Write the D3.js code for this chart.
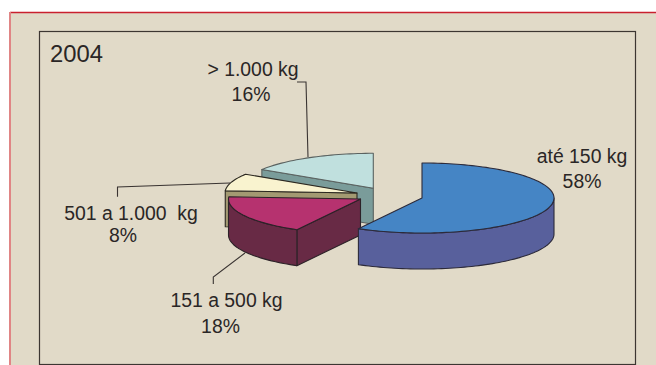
<!DOCTYPE html>
<html><head><meta charset="utf-8">
<script src="https://cdn.jsdelivr.net/npm/d3@7"></script>
<style>html,body{margin:0;padding:0;background:#fff}svg{display:block}text{font-family:"Liberation Sans",Arial,sans-serif;fill:#2a2626;white-space:pre}</style>
</head><body><svg id="c" width="656" height="365"></svg>
<script>
const categories = ["até 150 kg","151 a 500 kg","501 a 1.000  kg","> 1.000 kg"];
const shares = [58,18,8,16];
const shareLabels = ["58%","18%","8%","16%"];
const title = "2004";
const topColors = ["#4585c5","#b6326f","#f9f3cf","#c0e0de"];
const sideColors = ["#58609c","#682a45","#a39a72","#7a9c9a"];
const strokeColors = ["#2c2a3a","#2c2228","#2c2820","#5a6260"];
const centers = [[422,198],[360.5,199],[357,193],[373.3,188.3]];
const drawOrder = [3,2,1,0];
const labelPos = [[582,162.7,582,188],[226.5,307,220.5,333],[131,219.5,123,242],[253,76,251,101]];
const leaders = [null,[[213.3,284],[213.3,277],[245,253]],[[117.5,196.7],[117.5,187],[230,183]],[[297,82],[306,82],[308,157]]];

const W=656,H=365,RX=132,RY=35,DEPTH=36;
const svg=d3.select("#c");
svg.append("rect").attr("x",10).attr("y",12).attr("width",W-10).attr("height",H-12).attr("fill","#e1dac8");
svg.append("line").attr("x1",10).attr("x2",W).attr("y1",12.5).attr("y2",12.5).attr("stroke","#c9202f").attr("stroke-width",1.5);
svg.append("line").attr("x1",10).attr("x2",10).attr("y1",12).attr("y2",H).attr("stroke","#e08585").attr("stroke-width",2);
svg.append("rect").attr("x",39.5).attr("y",31.5).attr("width",596).attr("height",333).attr("fill","none").attr("stroke","#3c3632").attr("stroke-width",1.2);

const pie=d3.pie().sort(null).value(d=>d);
const arcs=pie(shares);
const sx=d3.scaleLinear().domain([-1,1]).range([-RX,RX]);
const sy=d3.scaleLinear().domain([-1,1]).range([-RY,RY]);
const line=d3.line().curve(d3.curveLinear);
const at=(i,a,dz=0)=>[centers[i][0]+sx(Math.sin(a)),centers[i][1]+sy(-Math.cos(a))+dz];
const rim=(i,a0,a1,dz=0)=>{const n=Math.max(2,Math.ceil((a1-a0)/0.03));return d3.range(n+1).map(k=>at(i,a0+(a1-a0)*k/n,dz));};

const g=svg.append("g");
drawOrder.forEach(i=>{
  const a=arcs[i], c=centers[i], base=[c[0],c[1]+DEPTH];
  const wall=(ang)=>[c,at(i,ang),at(i,ang,DEPTH),base];
  const sty=s=>s.attr("fill",sideColors[i]).attr("stroke",strokeColors[i]).attr("stroke-width",1.1).attr("stroke-linejoin","round");
  if(Math.sin(a.startAngle)<-1e-6) sty(g.append("path").attr("d",line(wall(a.startAngle))+"Z"));
  if(Math.sin(a.endAngle)>1e-6) sty(g.append("path").attr("d",line(wall(a.endAngle))+"Z"));
  const lo=Math.max(a.startAngle,Math.PI/2), hi=Math.min(a.endAngle,Math.PI*1.5);
  if(hi>lo){
    sty(g.append("path").attr("d",line(rim(i,lo,hi).concat(rim(i,lo,hi,DEPTH).reverse()))+"Z"));
  }
  g.append("path").attr("d",line([c].concat(rim(i,a.startAngle,a.endAngle)))+"Z")
    .attr("fill",topColors[i]).attr("stroke",strokeColors[i]).attr("stroke-width",1.1).attr("stroke-linejoin","round");
});

leaders.forEach(p=>{ if(p) svg.append("path").attr("d",line(p)).attr("fill","none").attr("stroke","#3a3432").attr("stroke-width",1.1); });

categories.forEach((t,i)=>{
  const p=labelPos[i];
  svg.append("text").attr("x",p[0]).attr("y",p[1]).attr("text-anchor","middle").attr("font-size",19.4).text(t);
  svg.append("text").attr("x",p[2]).attr("y",p[3]).attr("text-anchor","middle").attr("font-size",19.4).text(shareLabels[i]);
});
svg.append("text").attr("x",50).attr("y",62).attr("font-size",23.8).text(title);
</script></body></html>
